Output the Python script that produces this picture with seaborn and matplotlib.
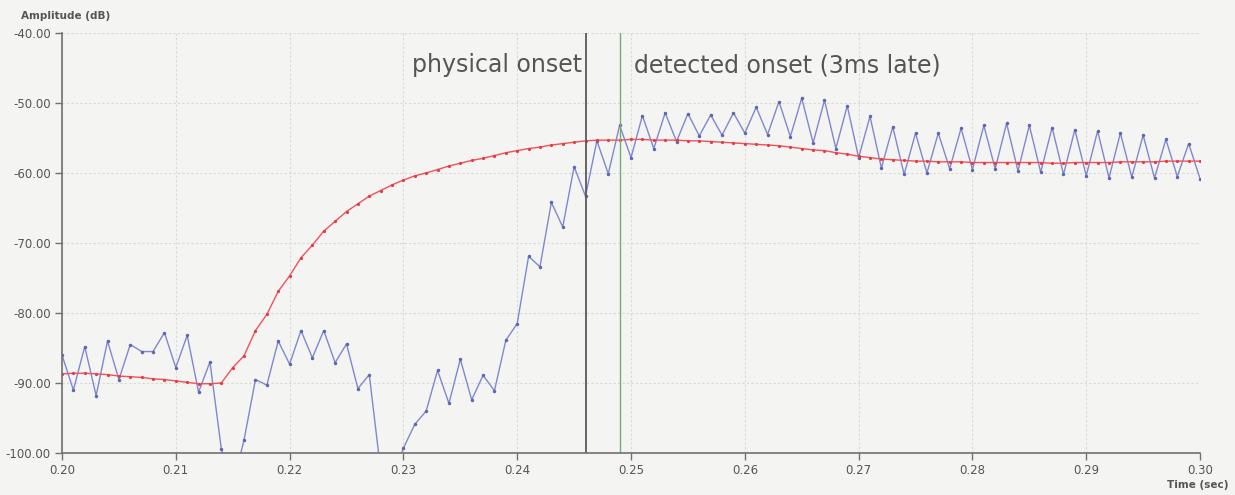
import numpy as np
import pandas as pd
import seaborn as sns
import matplotlib.pyplot as plt

# time axis: one sample per ms, 0.200 .. 0.300 s
time = np.round(np.arange(200, 301) / 1000.0, 3)

# raw amplitude (blue), dB
raw_db = [
    -86.0, -91.0, -84.8, -91.8, -84.0, -89.5, -84.5, -85.5, -85.5, -82.8,
    -87.8, -83.2, -91.3, -87.0, -99.4, -104.7, -98.1, -89.5, -90.3, -84.0,
    -87.3, -82.5, -86.4, -82.5, -87.1, -84.4, -90.8, -88.8, -102.5, -104.0,
    -99.3, -95.9, -94.0, -88.2, -92.9, -86.6, -92.4, -88.9, -91.1, -83.9,
    -81.5, -71.9, -73.4, -64.2, -67.7, -59.1, -63.3, -55.4, -60.1, -53.2,
    -57.8, -51.8, -56.5, -51.4, -55.5, -51.5, -54.7, -51.7, -54.6, -51.4,
    -54.3, -50.6, -54.5, -49.8, -54.8, -49.3, -55.7, -49.6, -56.5, -50.4,
    -57.8, -51.9, -59.3, -53.4, -60.2, -54.3, -60.0, -54.3, -59.4, -53.6,
    -59.5, -53.2, -59.4, -52.9, -59.7, -53.2, -59.9, -53.5, -60.2, -53.8,
    -60.4, -54.0, -60.7, -54.3, -60.6, -54.6, -60.7, -55.2, -60.5, -55.8,
    -60.8,
]

# smoothed envelope (red), dB
env_db = [
    -88.7, -88.6, -88.6, -88.7, -88.8, -89.0, -89.1, -89.2, -89.4, -89.5,
    -89.7, -89.9, -90.1, -90.1, -90.0, -87.8, -86.1, -82.5, -80.2, -76.9,
    -74.7, -72.1, -70.3, -68.3, -66.9, -65.5, -64.4, -63.3, -62.5, -61.7,
    -61.0, -60.4, -60.0, -59.5, -59.0, -58.6, -58.2, -57.9, -57.5, -57.1,
    -56.8, -56.5, -56.3, -56.0, -55.8, -55.6, -55.4, -55.3, -55.3, -55.3,
    -55.2, -55.2, -55.3, -55.3, -55.3, -55.4, -55.4, -55.5, -55.6, -55.7,
    -55.8, -55.9, -56.0, -56.1, -56.3, -56.5, -56.7, -56.8, -57.1, -57.3,
    -57.6, -57.8, -58.0, -58.1, -58.2, -58.3, -58.3, -58.4, -58.4, -58.4,
    -58.5, -58.5, -58.5, -58.5, -58.5, -58.5, -58.5, -58.6, -58.6, -58.5,
    -58.5, -58.5, -58.5, -58.4, -58.4, -58.4, -58.4, -58.3, -58.3, -58.3,
    -58.3,
]

physical_onset = 0.246
detected_onset = 0.249

x_ticks = [0.20, 0.21, 0.22, 0.23, 0.24, 0.25, 0.26, 0.27, 0.28, 0.29, 0.30]
y_ticks = [-100, -90, -80, -70, -60, -50, -40]

df = pd.DataFrame({"time": time, "raw": raw_db, "env": env_db})

bg = "#f4f4f2"
sns.set_theme(style="whitegrid", rc={
    "figure.facecolor": bg,
    "axes.facecolor": bg,
    "grid.color": "#d8d8d6",
    "grid.linestyle": (0, (2, 2)),
    "grid.linewidth": 0.8,
    "axes.edgecolor": "#707070",
})
plt.rcParams["font.family"] = ["DejaVu Sans"]

fig = plt.figure(figsize=(12.35, 4.95), dpi=100)
ax = fig.add_axes([0.0502, 0.0848, 0.9215, 0.8485])

sns.lineplot(data=df, x="time", y="raw", ax=ax, color="#8088cc", lw=1.0,
             marker="o", markersize=2.5, markeredgewidth=0, mfc="#5f66b0")
sns.lineplot(data=df, x="time", y="env", ax=ax, color="#f0525a", lw=1.0,
             marker="o", markersize=2.3, markeredgewidth=0, mfc="#e83a44")

ax.axvline(physical_onset, color="#5a5a5a", lw=1.3)
ax.axvline(detected_onset, color="#74ad74", lw=1.0)

ax.text(physical_onset - 0.0003, -44.6, "physical onset", ha="right", va="center",
        fontsize=17, color="#555555")
ax.text(detected_onset + 0.0013, -44.6, "detected onset (3ms late)", ha="left",
        va="center", fontsize=17, color="#555555")

ax.set_xlim(0.20, 0.30)
ax.set_ylim(-100, -40)
ax.set_xticks(x_ticks)
ax.set_xticklabels([f"{v:.2f}" for v in x_ticks])
ax.set_yticks(y_ticks)
ax.set_yticklabels([f"{v:.2f}" for v in y_ticks])
ax.tick_params(axis="both", labelsize=8.5, labelcolor="#555555", colors="#707070",
               length=5, width=1, direction="out", left=True, bottom=True, pad=3)
ax.set_xlabel("")
ax.set_ylabel("")
for s in ["top", "right"]:
    ax.spines[s].set_visible(False)
for s in ["left", "bottom"]:
    ax.spines[s].set_linewidth(1.2)

fig.text(0.017, 0.968, "Amplitude (dB)", fontsize=7.5, color="#555555",
         fontweight="bold", va="center")
fig.text(0.995, 0.02, "Time (sec)", fontsize=7.5, color="#555555",
         fontweight="bold", ha="right", va="center")

fig.savefig("out.png", dpi=100, facecolor=bg)
